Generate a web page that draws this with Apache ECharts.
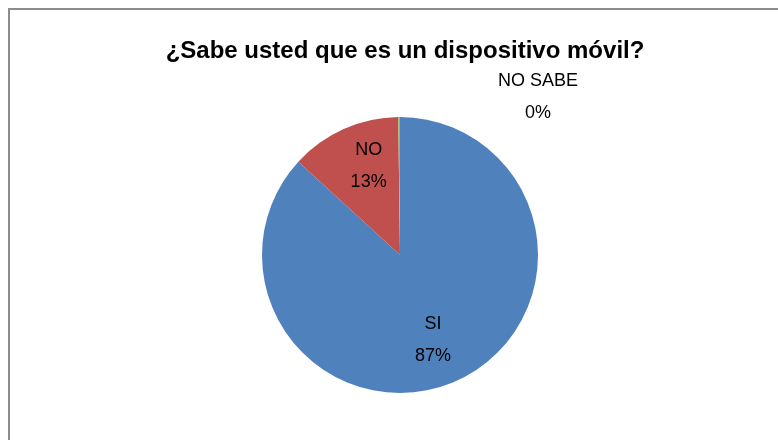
<!DOCTYPE html>
<html>
<head>
<meta charset="utf-8">
<script src="https://cdn.jsdelivr.net/npm/echarts@6/dist/echarts.min.js"></script>
<style>
  html, body { margin: 0; padding: 0; background: #fff; }
  #chart { width: 778px; height: 440px; }
  /* frame of the original chart area, only top and left edges are visible */
  #frame {
    position: absolute; left: 8px; top: 8px; width: 900px; height: 600px;
    border-left: 2px solid #8c8c8c; border-top: 2px solid #8c8c8c;
    pointer-events: none;
  }
</style>
</head>
<body>
<div id="chart"></div>
<div id="frame"></div>
<script>
  var categories = ['SI', 'NO', 'NO SABE'];
  var values = [87, 13, 0.2];
  var colors = ['#4F81BD', '#C0504D', '#9BBB59'];

  var chart = echarts.init(document.getElementById('chart'));

  var option = {
    animation: false,
    title: {
      text: '¿Sabe usted que es un dispositivo móvil?',
      left: 400,
      textAlign: 'center',
      top: 34,
      textStyle: {
        fontFamily: 'Liberation Sans',
        fontSize: 24,
        fontWeight: 'bold',
        color: '#000'
      }
    },
    series: [{
      type: 'pie',
      center: [400, 255],
      radius: 138,
      startAngle: 90,
      clockwise: true,
      avoidLabelOverlap: false,
      data: categories.map(function (name, i) {
        return { name: name, value: values[i], itemStyle: { color: colors[i] } };
      }),
      itemStyle: { borderWidth: 0 },
      label: {
        show: true,
        position: 'inside',
        formatter: function (p) {
          return p.name + '\n' + Math.round(p.percent) + '%';
        },
        fontFamily: 'Liberation Sans',
        fontSize: 18,
        lineHeight: 32,
        color: '#000'
      },
      labelLine: { show: false },
      labelLayout: function (params) {
        if (params.dataIndex === 0) return { dx: 4, dy: 19 };
        if (params.dataIndex === 1) return { dx: -2, dy: -23 };
        return { x: 538, y: 97, align: 'center', verticalAlign: 'middle' };
      }
    }]
  };

  chart.setOption(option);
</script>
</body>
</html>
